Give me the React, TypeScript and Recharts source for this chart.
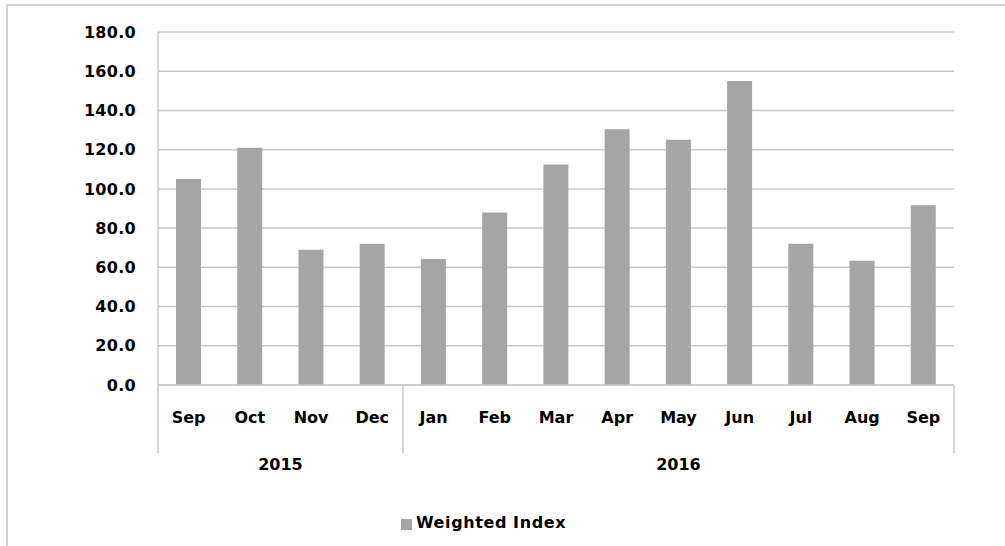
import { BarChart, Bar, XAxis, YAxis, CartesianGrid, Legend } from "recharts";

const months = ["Sep", "Oct", "Nov", "Dec", "Jan", "Feb", "Mar", "Apr", "May", "Jun", "Jul", "Aug", "Sep"];
const years = ["2015", "2015", "2015", "2015", "2016", "2016", "2016", "2016", "2016", "2016", "2016", "2016", "2016"];
const weightedIndex = [105, 121, 69, 72, 64.3, 88, 112.5, 130.4, 125, 155, 72, 63.4, 91.6];
const yTicks = [0, 20, 40, 60, 80, 100, 120, 140, 160, 180];

const data = months.map((m, i) => ({ month: m, year: years[i], value: weightedIndex[i] }));

const W = 1005;
const H = 546;
const PLOT_LEFT = 158;
const PLOT_RIGHT = 954;
const BAND = (PLOT_RIGHT - PLOT_LEFT) / months.length;
const LINE = "#c8c8c8";
const FONT = "DejaVu Sans";

const MonthTick = (props: any) => {
    const { x, y, payload } = props;
    const i = payload.index;
    const yr = years[i];
    const groupStart = i === 0 || years[i - 1] !== yr;
    const isLast = i === years.length - 1;
    // group label goes at the middle of the group
    const idx = years.map((v, k) => (v === yr ? k : -1)).filter((k) => k >= 0);
    const first = idx[0];
    const last = idx[idx.length - 1];
    const showYear = i === first;
    const yearX = x + ((last - first) / 2) * BAND;
    return (
        <g>
            <text x={x} y={y + 32} textAnchor="middle" dominantBaseline="central" fontFamily={FONT} fontWeight="bold" fontSize={16} fill="#000">
                {payload.value}
            </text>
            {groupStart && <line x1={x - BAND / 2} x2={x - BAND / 2} y1={y} y2={y + 68} stroke={LINE} strokeWidth={1.5} />}
            {isLast && <line x1={x + BAND / 2} x2={x + BAND / 2} y1={y} y2={y + 68} stroke={LINE} strokeWidth={1.5} />}
            {showYear && (
                <text x={yearX} y={y + 79} textAnchor="middle" dominantBaseline="central" fontFamily={FONT} fontWeight="bold" fontSize={16} fill="#000">
                    {yr}
                </text>
            )}
        </g>
    );
};

export default function App() {
    return (
        <div style={{ position: "absolute", left: 0, top: 0, width: W, height: H, overflow: "hidden", background: "#fff" }}>
            <div style={{ position: "absolute", left: 6, top: 4, width: 1100, height: 700, borderTop: "2px solid #d0d0d0", borderLeft: "2px solid #d0d0d0" }} />
            <div style={{ position: "absolute", left: 0, top: 0 }}>
                <BarChart width={W} height={H} data={data} margin={{ top: 32, right: W - PLOT_RIGHT, left: 0, bottom: 93 }}>
                    <CartesianGrid vertical={false} stroke={LINE} strokeWidth={1.5} />
                    <YAxis
                        width={PLOT_LEFT}
                        domain={[0, 180]}
                        ticks={yTicks}
                        tickFormatter={(v: number) => v.toFixed(1)}
                        tickLine={false}
                        tickSize={6}
                        tickMargin={16}
                        axisLine={{ stroke: LINE, strokeWidth: 1.5 }}
                        tick={{ fill: "#000", fontFamily: FONT, fontWeight: "bold", fontSize: 16, letterSpacing: 0.3 }}
                    />
                    <XAxis
                        dataKey="month"
                        interval={0}
                        height={68}
                        tickLine={false}
                        tickSize={0}
                        tickMargin={0}
                        axisLine={{ stroke: LINE, strokeWidth: 1.5 }}
                        tick={<MonthTick />}
                    />
                    <Legend
                        layout="horizontal"
                        verticalAlign="middle"
                        align="center"
                        iconType="square"
                        iconSize={11}
                        wrapperStyle={{ top: 513, left: 0, width: 977 }}
                        formatter={(value: string) => (
                            <span style={{ color: "#000", fontFamily: FONT, fontWeight: "bold", fontSize: 16, letterSpacing: 0.6 }}>{value}</span>
                        )}
                    />
                    <Bar dataKey="value" name="Weighted Index" fill="#a5a5a5" barSize={25} isAnimationActive={false} />
                </BarChart>
            </div>
        </div>
    );
}
